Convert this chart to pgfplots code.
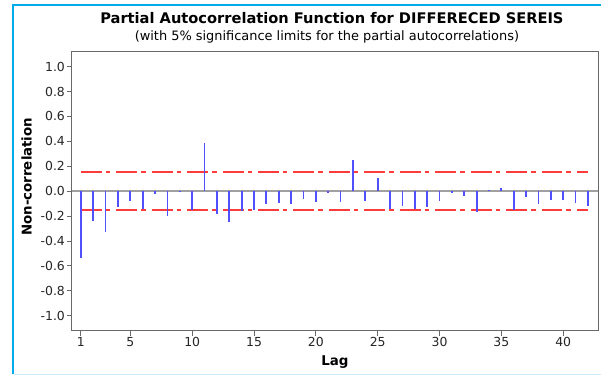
\documentclass[border=0pt]{standalone}
\usepackage{pgfplots}
\pgfplotsset{compat=1.18}
\usepackage{graphicx}
\usepackage{fontspec}
\setmainfont{DejaVu Sans}

\definecolor{framecyan}{RGB}{0,170,235}
\definecolor{framepale}{RGB}{205,235,250}
\definecolor{boxgray}{RGB}{105,105,105}
\definecolor{zerogray}{RGB}{160,160,160}
\definecolor{pacfblue}{RGB}{80,80,255}
\definecolor{limitred}{RGB}{255,60,60}

% partial autocorrelations by lag
\pgfplotstableread{
lag pacf
1  -0.539
2  -0.237
3  -0.331
4  -0.128
5  -0.077
6  -0.144
7  -0.021
8  -0.197
9  -0.004
10 -0.152
11  0.387
12 -0.184
13 -0.245
14 -0.163
15 -0.149
16 -0.107
17 -0.099
18 -0.107
19 -0.064
20 -0.085
21 -0.016
22 -0.085
23  0.253
24 -0.077
25  0.107
26 -0.144
27 -0.123
28 -0.144
29 -0.128
30 -0.077
31 -0.016
32 -0.037
33 -0.168
34  0.013
35  0.029
36 -0.152
37 -0.045
38 -0.107
39 -0.072
40 -0.072
41 -0.099
42 -0.120
}\pacftable

% 5% significance limits
\pgfplotstableread{
lag upper lower
1  0.152 -0.152
42 0.152 -0.152
}\limittable

\begin{document}
\begin{tikzpicture}[x=1bp,y=1bp]
  % page area
  \fill[white] (0,0) rectangle (602,376);
  % window frame
  \draw[framecyan,line width=2.2bp] (12.7,1) -- (12.7,371) -- (602,371);
  \draw[framepale,line width=1.5bp] (13.8,1) -- (602,1);

  \begin{axis}[
    at={(71.7bp,44.7bp)}, anchor=south west,
    width=527.6bp, height=279.6bp, scale only axis,
    xmin=0.25, xmax=42.83, ymin=-1.12, ymax=1.12,
    axis line style={boxgray,line width=0.9bp},
    xtick={1,5,10,15,20,25,30,35,40},
    xticklabels={1,5,10,15,20,25,30,35,40},
    ytick={-1,-0.8,-0.6,-0.4,-0.2,0,0.2,0.4,0.6,0.8,1},
    yticklabels={-1.0,-0.8,-0.6,-0.4,-0.2,0.0,0.2,0.4,0.6,0.8,1.0},
    xtick pos=bottom, ytick pos=left,
    tick align=outside,
    major tick length=5bp,
    tick style={boxgray,line width=0.9bp},
    tick label style={font=\fontsize{12.5}{14}\selectfont, text=black!85},
    yticklabel style={inner sep=1.5bp},
    xticklabel style={inner sep=1.5bp},
  ]
    % zero reference
    \addplot[zerogray,line width=1.6bp,forget plot] coordinates {(0.25,0) (42.83,0)};
    % significance limits
    \addplot[limitred,line width=1.8bp,dash pattern=on 21bp off 4bp on 4.5bp off 6bp]
      table[x=lag,y=upper] {\limittable};
    \addplot[limitred,line width=1.8bp,dash pattern=on 21bp off 4bp on 4.5bp off 6bp]
      table[x=lag,y=lower] {\limittable};
    % partial autocorrelation spikes
    \addplot[ycomb,pacfblue,line width=1.8bp,mark=none]
      table[x=lag,y=pacf] {\pacftable};
  \end{axis}

  % titles and axis labels
  \node[anchor=base,inner sep=0] at (332.5,352.7)
    {\resizebox{464bp}{\height}{\fontsize{14.7}{17}\selectfont\bfseries Partial Autocorrelation Function for DIFFERECED SEREIS}};
  \node[anchor=base,inner sep=0] at (327.5,335.3)
    {\resizebox{385bp}{\height}{\fontsize{13}{15}\selectfont (with 5\% significance limits for the partial autocorrelations)}};
  \node[rotate=90,inner sep=0] at (26.7,199)
    {\resizebox{118bp}{\height}{\fontsize{13.5}{15}\selectfont\bfseries Non-correlation}};
  \node[anchor=base,inner sep=0] at (335.5,9.5)
    {\fontsize{13.5}{15}\selectfont\bfseries Lag};
\end{tikzpicture}
\end{document}
